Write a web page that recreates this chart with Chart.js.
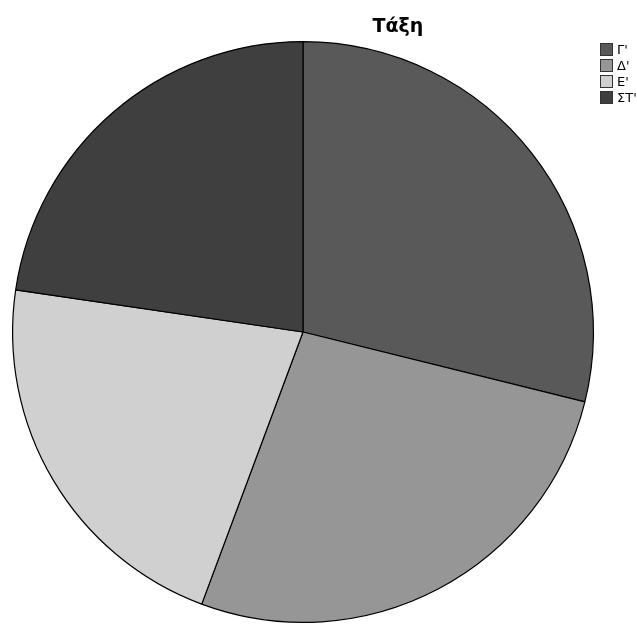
<!DOCTYPE html>
<html>
<head>
<meta charset="utf-8">
<script src="https://cdn.jsdelivr.net/npm/chart.js@4"></script>
<style>
    html, body { margin: 0; padding: 0; background: #fff; }
    #wrap { position: relative; width: 637px; height: 624px; }
    #title {
        position: absolute; left: 298px; top: 15px; width: 200px;
        text-align: center; font: bold 19px "DejaVu Sans", sans-serif; line-height: 20px; color: #000;
    }
    #legend { position: absolute; left: 600px; top: 43px; }
    .item { height: 16px; font: 13px "DejaVu Sans", sans-serif; line-height: 13px; color: #000; white-space: nowrap; }
    .box { display: inline-block; width: 11px; height: 11px; border: 1px solid #333; vertical-align: top; margin-right: 4px; }
</style>
</head>
<body>
<div id="wrap">
    <canvas id="chart" width="637" height="624"></canvas>
    <div id="title"></div>
    <div id="legend"></div>
</div>
<script>
(function() {
    'use strict';

    var title = 'Τάξη';
    var categories = ['Γ\'', 'Δ\'', 'Ε\'', 'ΣΤ\''];
    var counts = [28, 26, 21, 22];
    var colors = ['#595959', '#969696', '#d0d0d0', '#3f3f3f'];

    document.getElementById('title').textContent = title;

    // Legend
    var legend = document.getElementById('legend');
    categories.forEach(function(cat, i) {
        var row = document.createElement('div');
        row.className = 'item';
        var box = document.createElement('span');
        box.className = 'box';
        box.style.background = colors[i];
        row.appendChild(box);
        row.appendChild(document.createTextNode(cat));
        legend.appendChild(row);
    });

    new Chart(document.getElementById('chart'), {
        type: 'pie',
        data: {
            labels: categories,
            datasets: [{
                data: counts,
                backgroundColor: colors,
                borderColor: '#000',
                borderWidth: 1.2
            }]
        },
        options: {
            responsive: false,
            animation: false,
            layout: { padding: { left: 12, right: 43, top: 41, bottom: 1 } },
            plugins: {
                legend: { display: false },
                title: { display: false },
                tooltip: { enabled: false }
            }
        }
    });
})();
</script>
</body>
</html>
